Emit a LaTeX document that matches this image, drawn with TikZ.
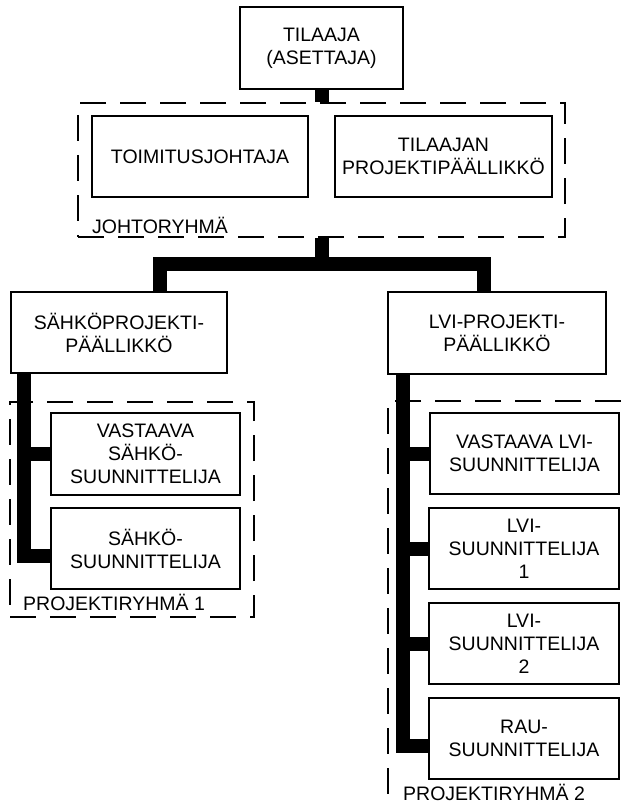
\documentclass[tikz,border=0pt]{standalone}
\usepackage{fontspec}
\setmainfont{Liberation Sans}
\begin{document}
\begin{tikzpicture}[x=1pt,y=-1pt,
  txt/.style={font=\fontsize{19.5}{23}\selectfont},
  box/.style={txt, draw, line width=1.8pt, rectangle, align=center, inner sep=0pt, fill=white},
  grp/.style={draw, line width=1.8pt, dash pattern=on 26pt off 14pt, inner sep=0pt},
  conn/.style={line width=14pt, line join=miter},
  lbl/.style={txt, anchor=base west, inner sep=0pt}]
\path[use as bounding box] (0,0) rectangle (625,805);
\clip (0,0) rectangle (625,805);
% groups
\node[grp, minimum width=487pt, minimum height=134pt] (johto) at (321.5,170) {};
\node[grp, minimum width=244pt, minimum height=215pt] (pr1) at (132,509.5) {};
\node[grp, minimum width=262pt, minimum height=429pt] (pr2) at (519,615.5) {};
\node[lbl] (ljohto) at (92,233) {JOHTORYHMÄ};
\node[lbl] (lpr1) at (23,610) {PROJEKTIRYHMÄ 1};
\node[lbl] (lpr2) at (403,800) {PROJEKTIRYHMÄ 2};
% boxes
\node[box, minimum width=163pt, minimum height=82pt] (tilaaja) at (321.5,48) {TILAAJA\\(ASETTAJA)};
\node[box, minimum width=216pt, minimum height=81pt] (toim) at (200,156.5) {TOIMITUSJOHTAJA};
\node[box, minimum width=217pt, minimum height=81pt] (tproj) at (443.5,156.5) {TILAAJAN\\PROJEKTIPÄÄLLIKKÖ};
\node[box, minimum width=216pt, minimum height=81pt] (sahkopp) at (119,332.5) {SÄHKÖPROJEKTI-\\PÄÄLLIKKÖ};
\node[box, minimum width=218pt, minimum height=82pt] (lvipp) at (497,333) {LVI-PROJEKTI-\\PÄÄLLIKKÖ};
\node[box, minimum width=189pt, minimum height=82pt] (vsahko) at (145.5,454) {VASTAAVA\\SÄHKÖ-\\SUUNNITTELIJA};
\node[box, minimum width=189pt, minimum height=81pt] (sahkos) at (145.5,548.5) {SÄHKÖ-\\SUUNNITTELIJA};
\node[box, minimum width=189pt, minimum height=81pt] (vlvi) at (524.5,453.5) {VASTAAVA LVI-\\SUUNNITTELIJA};
\node[box, minimum width=190pt, minimum height=81pt] (lvi1) at (524,548.5) {LVI-\\SUUNNITTELIJA\\1};
\node[box, minimum width=190pt, minimum height=81pt] (lvi2) at (524,643.5) {LVI-\\SUUNNITTELIJA\\2};
\node[box, minimum width=190pt, minimum height=81pt] (rau) at (524,738.5) {RAU-\\SUUNNITTELIJA};
% connector coordinates
\coordinate (bar) at (321.5,264);
\coordinate (lb) at (159.5,264);
\coordinate (rb) at (484,264);
\coordinate (lv) at (24,0);
\coordinate (rv) at (402.5,0);
% connectors
\draw[conn] (tilaaja.south) -- (johto.north);
\draw[conn] (johto.south) -- (bar);
\draw[conn] (lb |- sahkopp.north) -- (lb) -- (rb) -- (rb |- lvipp.north);
\draw[conn] (lv |- sahkopp.south) -- ([yshift=-7pt]lv |- sahkos.west) -- ([yshift=-7pt]sahkos.west);
\draw[conn] (lv |- vsahko.west) -- (vsahko.west);
\draw[conn] (rv |- lvipp.south) -- ([yshift=-7pt]rv |- rau.west) -- ([yshift=-7pt]rau.west);
\draw[conn] (rv |- vlvi.west) -- (vlvi.west);
\draw[conn] (rv |- lvi1.west) -- (lvi1.west);
\draw[conn] (rv |- lvi2.west) -- (lvi2.west);
\end{tikzpicture}
\end{document}
